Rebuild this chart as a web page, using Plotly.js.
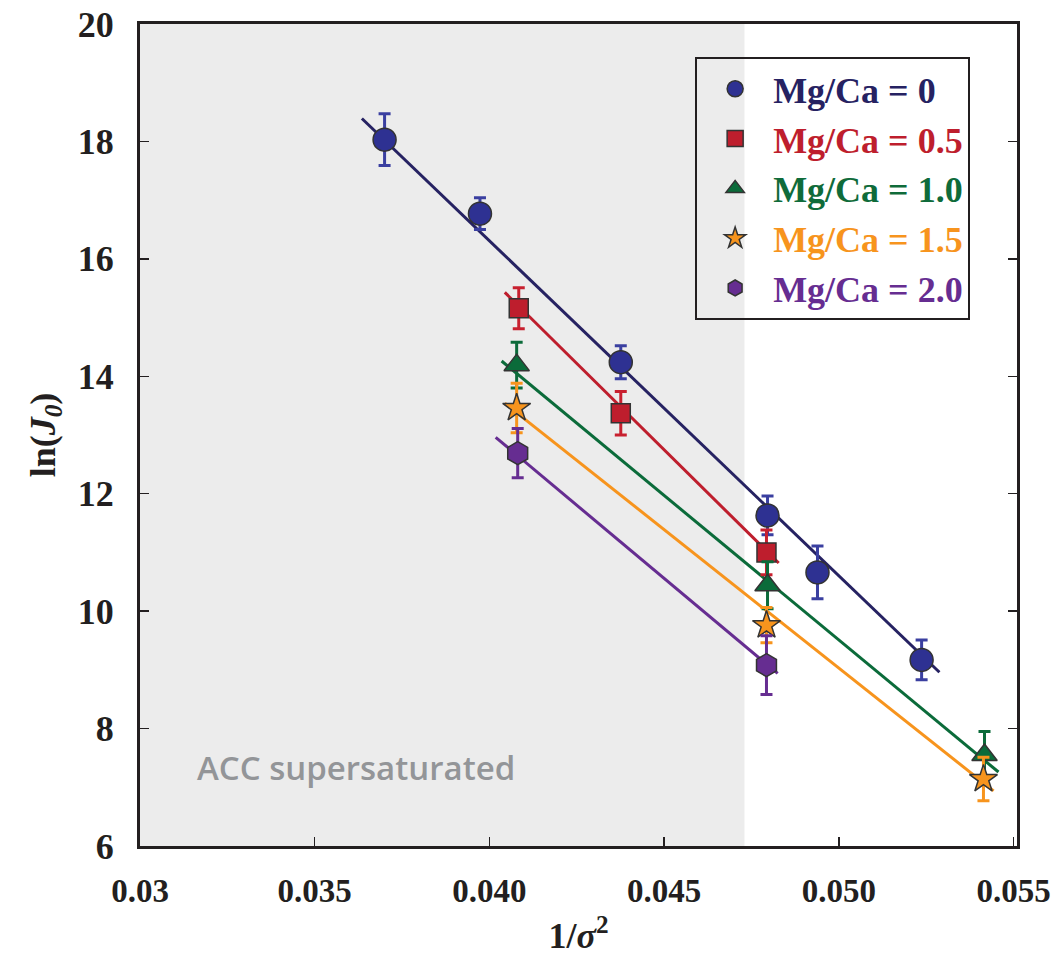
<!DOCTYPE html>
<html>
<head>
<meta charset="utf-8">
<script src="https://cdn.plot.ly/plotly-3.0.1.min.js"></script>
<style>html,body{margin:0;padding:0;background:#fff;}#chart{width:1052px;height:956px;}</style>
</head>
<body>
<div id="chart"></div>
<script>
// ---- data ----
const seriesNames = ["Mg/Ca = 0", "Mg/Ca = 0.5", "Mg/Ca = 1.0", "Mg/Ca = 1.5", "Mg/Ca = 2.0"];

const x0 = [0.0370, 0.03973, 0.04376, 0.04796, 0.04939, 0.05237];
const y0 = [18.03, 16.77, 14.24, 11.63, 10.66, 9.17];
const e0 = [0.44, 0.27, 0.28, 0.33, 0.45, 0.34];

const x05 = [0.04084, 0.04376, 0.04793];
const y05 = [15.16, 13.37, 11.00];
const e05 = [0.35, 0.37, 0.38];

const x10 = [0.04078, 0.04796, 0.05417];
const y10 = [14.19, 10.44, 7.55];
const e10 = [0.39, 0.40, 0.40];

const x15 = [0.04078, 0.04793, 0.05414];
const y15 = [13.46, 9.76, 7.14];
const e15 = [0.42, 0.30, 0.37];

const x20 = [0.04081, 0.04793];
const y20 = [12.69, 9.08];
const e20 = [0.42, 0.50];

// fitted line endpoints
const fitX0 = [0.03635, 0.05288];  const fitY0 = [18.39, 8.96];
const fitX05 = [0.04044, 0.04828]; const fitY05 = [15.43, 10.82];
const fitX10 = [0.04035, 0.05457]; const fitY10 = [14.26, 7.26];
const fitX15 = [0.04044, 0.05443]; const fitY15 = [13.54, 6.94];
const fitX20 = [0.04018, 0.04825]; const fitY20 = [12.96, 8.94];

const xTickVals = [0.03, 0.035, 0.040, 0.045, 0.050, 0.055];
const xTickText = ["0.03", "0.035", "0.040", "0.045", "0.050", "0.055"];
const yTickVals = [6, 8, 10, 12, 14, 16, 18, 20];

const shadeEnd = 0.0473;
const shadeLabel = "ACC supersaturated";

// ---- styles ----
const markerColors = ["#2e3192", "#be1e2d", "#0b6b3a", "#f7941d", "#662d91"];
const lineColors   = ["#262262", "#be1e2d", "#0b6b3a", "#f7941d", "#662d91"];
const errColors    = ["#3a3fa0", "#c8202f", "#0b6b3a", "#f7941d", "#662d91"];
const textColors   = ["#262262", "#be1e2d", "#0f6b3a", "#f7941d", "#662d91"];
const symbols = ["circle", "square", "triangle-up", "star", "hexagon"];
const sizes = [23, 19, 22, 21, 23];

const pts = [[x0,y0,e0],[x05,y05,e05],[x10,y10,e10],[x15,y15,e15],[x20,y20,e20]];
const fits = [[fitX0,fitY0],[fitX05,fitY05],[fitX10,fitY10],[fitX15,fitY15],[fitX20,fitY20]];

const traces = [];
fits.forEach((f,i)=>{
  traces.push({x:f[0], y:f[1], mode:'lines', type:'scatter', showlegend:false,
    line:{color:lineColors[i], width:3}, hoverinfo:'skip'});
});
pts.forEach((p,i)=>{
  traces.push({x:p[0], y:p[1], mode:'markers', type:'scatter',
    name:'<span style="color:'+textColors[i]+'">'+seriesNames[i]+'</span>',
    marker:{symbol:symbols[i], size:sizes[i], color:markerColors[i], line:{color:'#333', width:1.5}},
    error_y:{type:'data', array:p[2], visible:true, color:errColors[i], thickness:3, width:6}
  });
});

const font = 'Liberation Serif, Times New Roman, serif';
const layout = {
  width:1052, height:956,
  margin:{l:140, r:35, t:24, b:110},
  paper_bgcolor:'#fff', plot_bgcolor:'#fff',
  showlegend:true,
  legend:{x:0.633, y:0.96, xanchor:'left', yanchor:'top', bgcolor:'rgba(0,0,0,0)',
    bordercolor:'#231f20', borderwidth:2,
    font:{family:font, size:36, weight:700}, tracegroupgap:0, itemwidth:66},
  xaxis:{range:[0.03, 0.0551], tickvals:xTickVals, ticktext:xTickText,
    showline:true, linecolor:'#231f20', linewidth:3, mirror:true,
    ticks:'inside', ticklen:9, tickwidth:1.5, tickcolor:'#231f20',
    showgrid:false, zeroline:false, ticklabelstandoff:13, ticklabeloverflow:'allow',
    tickfont:{family:font, size:33, weight:700, color:'#231f20'},
    title:{text:'1/<i>σ</i><sup>2</sup>', font:{family:font, size:36, weight:700, color:'#231f20'}, standoff:26}},
  yaxis:{range:[6, 20], tickvals:yTickVals,
    showline:true, linecolor:'#231f20', linewidth:3, mirror:'ticks',
    ticks:'inside', ticklen:9, tickwidth:1.5, tickcolor:'#231f20',
    showgrid:false, zeroline:false, ticklabelstandoff:16,
    tickfont:{family:font, size:36, weight:700, color:'#231f20'},
    title:{text:'ln(<i>J<sub>0</sub></i>)', font:{family:font, size:36, weight:700, color:'#231f20'}, standoff:12}},
  shapes:[{type:'rect', xref:'x', yref:'paper', x0:0.03, x1:shadeEnd, y0:0, y1:1,
    fillcolor:'#ececec', line:{width:0}, layer:'below'}],
  annotations:[{x:0.03157, y:7.34, xref:'x', yref:'y', xanchor:'left', yanchor:'middle',
    text:shadeLabel, showarrow:false,
    font:{family:'Open Sans, sans-serif', size:33, weight:600, color:'#939598'}}]
};
Plotly.newPlot('chart', traces, layout, {displayModeBar:false, staticPlot:true});
</script>
</body>
</html>
